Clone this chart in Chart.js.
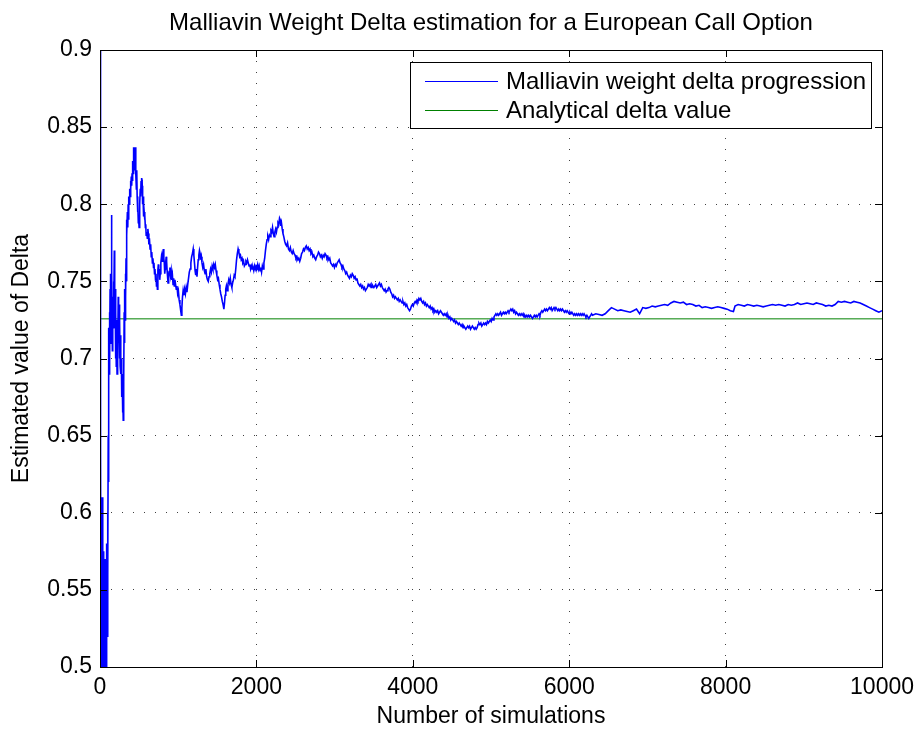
<!DOCTYPE html>
<html>
<head>
<meta charset="utf-8">
<title>Malliavin Weight Delta estimation</title>
<script src="https://cdn.jsdelivr.net/npm/chart.js@4.4.1/dist/chart.umd.min.js"></script>
<style>
  html, body { margin: 0; padding: 0; background: #fff; }
  canvas { display: block; }
</style>
</head>
<body>
<canvas id="chart-delta" width="921" height="731"></canvas>
<script>
'use strict';

// number of simulations at which the running estimate was read off
const simCount = [
  0, 5, 9, 13, 17, 21, 25, 29, 33, 37, 41, 45, 49, 53, 57, 61, 65, 69, 73, 77,
  81, 85, 89, 93, 97, 101, 105, 109, 113, 117, 121, 125, 129, 133, 137, 141, 145, 149, 153, 158,
  163, 168, 173, 178, 183, 188, 193, 198, 203, 208, 213, 218, 223, 228, 233, 238, 243, 248, 253, 258,
  263, 268, 273, 278, 283, 288, 293, 297, 301, 305, 309, 313, 317, 321, 325, 329, 333, 337, 341, 345,
  350, 355, 360, 365, 370, 375, 380, 385, 390, 395, 400, 405, 410, 415, 420, 425, 430, 435, 440, 445,
  450, 455, 460, 465, 470, 475, 480, 485, 490, 495, 500, 505, 510, 515, 520, 525, 530, 535, 540, 545,
  550, 555, 560, 565, 570, 575, 580, 585, 590, 597, 605, 612, 618, 625, 632, 640, 648, 655, 662, 670,
  677, 684, 690, 697, 703, 710, 716, 722, 728, 734, 740, 746, 752, 758, 764, 770, 778, 786, 794, 802,
  810, 816, 822, 828, 834, 840, 846, 852, 858, 864, 870, 878, 886, 894, 902, 910, 918, 926, 934, 942,
  950, 958, 966, 975, 984, 993, 1002, 1012, 1022, 1032, 1040, 1047, 1055, 1063, 1072, 1082, 1092, 1102, 1112, 1122,
  1132, 1142, 1152, 1162, 1172, 1182, 1192, 1200, 1208, 1216, 1224, 1232, 1240, 1248, 1256, 1264, 1272, 1280, 1288, 1296,
  1304, 1314, 1324, 1334, 1344, 1354, 1364, 1374, 1384, 1394, 1404, 1414, 1424, 1434, 1444, 1454, 1464, 1474, 1484, 1494,
  1504, 1514, 1524, 1534, 1544, 1554, 1564, 1574, 1584, 1592, 1600, 1608, 1616, 1626, 1636, 1646, 1656, 1666, 1676, 1686,
  1696, 1706, 1716, 1726, 1736, 1746, 1756, 1766, 1776, 1786, 1796, 1806, 1816, 1826, 1836, 1846, 1856, 1866, 1876, 1886,
  1896, 1906, 1916, 1926, 1936, 1946, 1956, 1966, 1976, 1986, 1996, 2006, 2016, 2026, 2036, 2046, 2056, 2066, 2076, 2086,
  2096, 2106, 2116, 2126, 2136, 2146, 2156, 2166, 2176, 2186, 2196, 2206, 2216, 2226, 2236, 2246, 2256, 2266, 2276, 2286,
  2296, 2304, 2312, 2320, 2330, 2340, 2350, 2362, 2374, 2386, 2398, 2410, 2422, 2434, 2446, 2458, 2470, 2482, 2494, 2506,
  2518, 2530, 2542, 2554, 2566, 2578, 2590, 2602, 2614, 2626, 2638, 2650, 2662, 2674, 2686, 2698, 2710, 2722, 2734, 2746,
  2758, 2770, 2782, 2794, 2806, 2818, 2830, 2842, 2854, 2866, 2878, 2890, 2902, 2914, 2926, 2938, 2950, 2962, 2974, 2986,
  2998, 3010, 3022, 3034, 3046, 3058, 3070, 3082, 3094, 3106, 3118, 3130, 3142, 3154, 3166, 3178, 3190, 3202, 3214, 3226,
  3238, 3250, 3262, 3274, 3286, 3298, 3310, 3322, 3334, 3346, 3358, 3370, 3382, 3394, 3406, 3418, 3430, 3442, 3454, 3466,
  3478, 3490, 3502, 3514, 3526, 3538, 3550, 3562, 3574, 3586, 3598, 3610, 3622, 3634, 3646, 3658, 3670, 3682, 3694, 3706,
  3718, 3730, 3742, 3754, 3766, 3778, 3790, 3802, 3814, 3826, 3838, 3850, 3862, 3874, 3886, 3898, 3910, 3922, 3934, 3946,
  3958, 3970, 3982, 3994, 4006, 4018, 4030, 4042, 4054, 4066, 4078, 4090, 4102, 4114, 4126, 4138, 4150, 4162, 4174, 4186,
  4198, 4210, 4222, 4234, 4246, 4258, 4270, 4282, 4294, 4306, 4318, 4330, 4342, 4354, 4366, 4378, 4390, 4402, 4414, 4426,
  4438, 4450, 4462, 4474, 4486, 4498, 4510, 4522, 4534, 4546, 4558, 4570, 4582, 4594, 4606, 4618, 4630, 4642, 4654, 4666,
  4678, 4690, 4702, 4714, 4726, 4738, 4750, 4762, 4774, 4786, 4798, 4810, 4822, 4834, 4846, 4858, 4870, 4882, 4894, 4906,
  4918, 4930, 4942, 4954, 4966, 4978, 4990, 5002, 5014, 5026, 5038, 5050, 5062, 5074, 5086, 5098, 5110, 5122, 5134, 5146,
  5158, 5170, 5182, 5194, 5206, 5218, 5230, 5242, 5254, 5266, 5278, 5290, 5302, 5314, 5326, 5338, 5350, 5362, 5374, 5386,
  5398, 5410, 5422, 5434, 5446, 5458, 5470, 5482, 5494, 5506, 5518, 5530, 5542, 5554, 5566, 5578, 5590, 5602, 5614, 5626,
  5638, 5650, 5662, 5674, 5686, 5698, 5710, 5722, 5734, 5746, 5758, 5770, 5782, 5794, 5806, 5818, 5830, 5842, 5854, 5866,
  5878, 5890, 5902, 5914, 5926, 5938, 5950, 5962, 5974, 5986, 5998, 6010, 6022, 6034, 6046, 6058, 6070, 6082, 6094, 6106,
  6118, 6130, 6142, 6154, 6166, 6178, 6190, 6202, 6214, 6226, 6238, 6250, 6262, 6274, 6286, 6298,
  6340, 6380, 6420, 6460, 6500, 6540, 6580, 6620, 6660, 6700, 6740, 6780, 6820, 6860, 6900, 6940, 6980, 7020, 7060, 7100,
  7140, 7180, 7220, 7260, 7300, 7340, 7380, 7420, 7460, 7500, 7540, 7580, 7620, 7660, 7700, 7740, 7780, 7820, 7860, 7900,
  7940, 7980, 8020, 8060, 8100, 8120, 8160, 8200, 8240, 8280, 8320, 8360, 8400, 8440, 8480, 8520, 8560, 8600, 8640, 8680,
  8720, 8760, 8800, 8840, 8880, 8920, 8960, 9000, 9040, 9080, 9120, 9160, 9200, 9240, 9280, 9320, 9360, 9400, 9440, 9480,
  9520, 9560, 9600, 9640, 9680, 9720, 9760, 9800, 9840, 9880, 9920, 9960, 10000
];

// running Malliavin weight estimate of delta
const deltaEst = [
  1.05, 0.47, 0.64, 0.49, 0.61, 0.47, 0.56, 0.5, 0.61, 0.48, 0.55, 0.51, 0.575, 0.47, 0.54, 0.5, 0.57, 0.49, 0.53, 0.5,
  0.56, 0.49, 0.58, 0.52, 0.6, 0.56, 0.65, 0.62, 0.72, 0.69, 0.73, 0.70, 0.745, 0.72, 0.755, 0.71, 0.793, 0.74, 0.755, 0.705,
  0.74, 0.72, 0.75, 0.73, 0.77, 0.72, 0.745, 0.70, 0.73, 0.695, 0.725, 0.69, 0.72, 0.70, 0.74, 0.71, 0.735, 0.70, 0.725, 0.695,
  0.715, 0.69, 0.70, 0.675, 0.69, 0.665, 0.68, 0.66, 0.69, 0.685, 0.73, 0.71, 0.745, 0.725, 0.755, 0.74, 0.765, 0.75, 0.79, 0.78,
  0.795, 0.785, 0.80, 0.79, 0.805, 0.80, 0.81, 0.805, 0.815, 0.81, 0.818, 0.812, 0.82, 0.815, 0.828, 0.82, 0.837, 0.825, 0.832, 0.822,
  0.837, 0.828, 0.82, 0.81, 0.822, 0.805, 0.795, 0.80, 0.788, 0.79, 0.785, 0.795, 0.80, 0.81, 0.805, 0.815, 0.817, 0.81, 0.812, 0.80,
  0.805, 0.80, 0.792, 0.795, 0.79, 0.793, 0.785, 0.787, 0.78, 0.782, 0.778, 0.784, 0.781, 0.774, 0.778, 0.771, 0.774, 0.766, 0.769, 0.762,
  0.765, 0.759, 0.762, 0.755, 0.758, 0.751, 0.755, 0.747, 0.751, 0.745, 0.757, 0.761, 0.755, 0.758, 0.751, 0.755, 0.762, 0.766, 0.763, 0.768,
  0.771, 0.765, 0.762, 0.755, 0.758, 0.762, 0.766, 0.763, 0.757, 0.753, 0.749, 0.752, 0.756, 0.759, 0.754, 0.757, 0.751, 0.754, 0.748, 0.752,
  0.747, 0.751, 0.748, 0.745, 0.747, 0.742, 0.744, 0.738, 0.735, 0.731, 0.728, 0.733, 0.74, 0.744, 0.741, 0.745, 0.742, 0.746, 0.743, 0.748,
  0.752, 0.756, 0.758, 0.762, 0.766, 0.768, 0.771, 0.767, 0.762, 0.757, 0.754, 0.758, 0.753, 0.759, 0.764, 0.767, 0.77, 0.768, 0.764, 0.766,
  0.762, 0.759, 0.761, 0.757, 0.755, 0.758, 0.753, 0.751, 0.75, 0.753, 0.755, 0.758, 0.756, 0.76, 0.758, 0.761, 0.759, 0.761, 0.757, 0.754,
  0.751, 0.752, 0.748, 0.745, 0.742, 0.74, 0.737, 0.735, 0.732, 0.736, 0.741, 0.745, 0.747, 0.744, 0.748, 0.751, 0.749, 0.752, 0.748, 0.746,
  0.749, 0.751, 0.754, 0.753, 0.758, 0.764, 0.768, 0.771, 0.769, 0.766, 0.767, 0.764, 0.765, 0.762, 0.763, 0.76, 0.761, 0.763, 0.762, 0.764,
  0.762, 0.76, 0.761, 0.758, 0.76, 0.758, 0.759, 0.757, 0.76, 0.758, 0.76, 0.759, 0.761, 0.758, 0.76, 0.757, 0.759, 0.756, 0.76, 0.758,
  0.762, 0.765, 0.77, 0.774, 0.777, 0.779, 0.777, 0.78, 0.779, 0.783, 0.782, 0.785, 0.781, 0.779, 0.782, 0.784, 0.782, 0.785, 0.788, 0.787,
  0.791, 0.79, 0.786, 0.788, 0.784, 0.781, 0.779, 0.776, 0.774, 0.773, 0.775, 0.771, 0.77, 0.772, 0.769, 0.768, 0.77, 0.768, 0.767, 0.765,
  0.766, 0.764, 0.765, 0.763, 0.765, 0.768, 0.769, 0.771, 0.77, 0.772, 0.773, 0.771, 0.772, 0.77, 0.771, 0.768, 0.769, 0.766, 0.767, 0.765,
  0.764, 0.766, 0.767, 0.769, 0.768, 0.766, 0.767, 0.765, 0.767, 0.766, 0.768, 0.767, 0.765, 0.766, 0.764, 0.765, 0.762, 0.761, 0.76, 0.761,
  0.759, 0.761, 0.76, 0.762, 0.763, 0.764, 0.762, 0.761, 0.759, 0.76, 0.758, 0.757, 0.755, 0.756, 0.754, 0.753, 0.752, 0.754, 0.753, 0.755,
  0.754, 0.752, 0.753, 0.751, 0.752, 0.749, 0.748, 0.747, 0.748, 0.746, 0.747, 0.745, 0.746, 0.744, 0.745, 0.746, 0.748, 0.747, 0.748, 0.746,
  0.748, 0.747, 0.746, 0.747, 0.748, 0.746, 0.747, 0.748, 0.749, 0.747, 0.748, 0.746, 0.745, 0.744, 0.745, 0.743, 0.744, 0.745, 0.746, 0.745,
  0.743, 0.742, 0.74, 0.741, 0.739, 0.74, 0.739, 0.738, 0.739, 0.737, 0.738, 0.737, 0.736, 0.737, 0.735, 0.736, 0.734, 0.735, 0.733, 0.732,
  0.731, 0.732, 0.734, 0.735, 0.734, 0.736, 0.737, 0.736, 0.738, 0.737, 0.739, 0.738, 0.739, 0.737, 0.736, 0.737, 0.735, 0.736, 0.734, 0.735,
  0.734, 0.733, 0.734, 0.732, 0.733, 0.731, 0.732, 0.73, 0.731, 0.73, 0.731, 0.729, 0.73, 0.731, 0.73, 0.729, 0.728, 0.729, 0.728, 0.729,
  0.727, 0.728, 0.726, 0.727, 0.725, 0.726, 0.725, 0.724, 0.725, 0.723, 0.724, 0.723, 0.722, 0.723, 0.722, 0.721, 0.722, 0.72, 0.721, 0.72,
  0.719, 0.72, 0.721, 0.72, 0.721, 0.719, 0.72, 0.721, 0.72, 0.719, 0.72, 0.719, 0.72, 0.722, 0.723, 0.722, 0.723, 0.721, 0.722, 0.723,
  0.722, 0.723, 0.722, 0.724, 0.723, 0.724, 0.725, 0.724, 0.726, 0.725, 0.727, 0.728, 0.729, 0.728, 0.729, 0.728, 0.729, 0.73, 0.728, 0.729,
  0.73, 0.729, 0.73, 0.729, 0.73, 0.731, 0.73, 0.731, 0.732, 0.731, 0.732, 0.73, 0.731, 0.729, 0.73, 0.729, 0.728, 0.729, 0.728, 0.729,
  0.728, 0.729, 0.727, 0.728, 0.727, 0.728, 0.727, 0.728, 0.727, 0.728, 0.727, 0.726, 0.727, 0.728, 0.727, 0.728, 0.727, 0.728, 0.729, 0.728,
  0.73, 0.731, 0.73, 0.731, 0.732, 0.731, 0.732, 0.731, 0.732, 0.733, 0.732, 0.733, 0.731, 0.732, 0.733, 0.732, 0.733, 0.732, 0.731, 0.732,
  0.731, 0.732, 0.731, 0.732, 0.731, 0.73, 0.731, 0.73, 0.731, 0.73, 0.729, 0.73, 0.729, 0.73, 0.729, 0.728, 0.729, 0.728, 0.729, 0.728,
  0.729, 0.728, 0.729, 0.728, 0.729, 0.728, 0.729, 0.728, 0.727, 0.728, 0.727, 0.726, 0.727, 0.728, 0.729, 0.728,
  0.729, 0.7285, 0.728, 0.729, 0.731, 0.733, 0.732, 0.731, 0.7315, 0.731, 0.7305, 0.73, 0.731, 0.732, 0.729, 0.733, 0.7325, 0.733, 0.734, 0.7335,
  0.734, 0.7345, 0.735, 0.7345, 0.736, 0.737, 0.7365, 0.736, 0.7365, 0.735, 0.7355, 0.735, 0.734, 0.7345, 0.733, 0.7335, 0.733, 0.7325, 0.733, 0.7335,
  0.733, 0.7325, 0.732, 0.731, 0.7305, 0.734, 0.735, 0.7345, 0.734, 0.735, 0.7345, 0.734, 0.7345, 0.734, 0.7335, 0.734, 0.7345, 0.735, 0.7345, 0.735,
  0.7345, 0.734, 0.735, 0.7345, 0.735, 0.736, 0.735, 0.7355, 0.736, 0.7355, 0.735, 0.736, 0.7355, 0.735, 0.734, 0.7345, 0.734, 0.735, 0.737, 0.7365,
  0.737, 0.7365, 0.736, 0.737, 0.7365, 0.736, 0.735, 0.734, 0.733, 0.732, 0.731, 0.730, 0.731
];

const analyticalDelta = 0.7257;

const xTicks = [0, 2000, 4000, 6000, 8000, 10000];
const yTicks = [0.5, 0.55, 0.6, 0.65, 0.7, 0.75, 0.8, 0.85, 0.9];

const seriesLabels = ['Malliavin weight delta progression', 'Analytical delta value'];
const chartTitle = 'Malliavin Weight Delta estimation for a European Call Option';
const xTitle = 'Number of simulations';
const yTitle = 'Estimated value of Delta';

const FONT = "'Liberation Sans', Arial, Helvetica, sans-serif";

// frame, inward ticks, legend box and title, matlab style
const matlabLook = {
  id: 'matlabLook',
  afterDatasetsDraw(chart) {
    const { ctx, chartArea: a, scales } = chart;
    const tickLen = 7;
    ctx.save();
    ctx.strokeStyle = '#000';
    ctx.lineWidth = 1;

    ctx.beginPath();
    xTicks.forEach(function (v) {
      const px = Math.round(scales.x.getPixelForValue(v)) + 0.5;
      ctx.moveTo(px, a.bottom); ctx.lineTo(px, a.bottom - tickLen);
      ctx.moveTo(px, a.top); ctx.lineTo(px, a.top + tickLen);
    });
    yTicks.forEach(function (v) {
      const py = Math.round(scales.y.getPixelForValue(v)) + 0.5;
      ctx.moveTo(a.left, py); ctx.lineTo(a.left + tickLen, py);
      ctx.moveTo(a.right, py); ctx.lineTo(a.right - tickLen, py);
    });
    ctx.stroke();

    ctx.strokeRect(Math.round(a.left) + 0.5, Math.round(a.top) + 0.5,
      Math.round(a.right - a.left), Math.round(a.bottom - a.top));

    // legend
    const lx = 410.5, ly = 62.5, lw = 461, lh = 66;
    ctx.fillStyle = '#fff';
    ctx.fillRect(lx, ly, lw, lh);
    ctx.strokeRect(lx, ly, lw, lh);
    ctx.font = '24px ' + FONT;
    ctx.textBaseline = 'middle';
    ctx.textAlign = 'left';
    chart.data.datasets.forEach(function (ds, i) {
      const y = Math.round(ly + 18 + i * 29) + 0.5;
      ctx.strokeStyle = ds.borderColor;
      ctx.lineWidth = 1;
      ctx.beginPath();
      ctx.moveTo(425, y); ctx.lineTo(498, y);
      ctx.stroke();
      ctx.fillStyle = '#000';
      ctx.fillText(ds.label, 506, y + 1);
    });

    // title
    ctx.font = '24px ' + FONT;
    ctx.textAlign = 'center';
    ctx.fillStyle = '#000';
    ctx.fillText(chartTitle, (a.left + a.right) / 2, 23);
    ctx.restore();
  }
};

const ctx = document.getElementById('chart-delta').getContext('2d');
const myChart = new Chart(ctx, {
  type: 'line',
  data: {
    datasets: [
      {
        label: seriesLabels[0],
        data: simCount.map(function (n, i) { return { x: n, y: deltaEst[i] }; }),
        borderColor: '#0000ff',
        borderWidth: 1.6,
        pointRadius: 0,
        tension: 0,
      },
      {
        label: seriesLabels[1],
        data: [
          { x: xTicks[0], y: analyticalDelta },
          { x: xTicks[xTicks.length - 1], y: analyticalDelta },
        ],
        borderColor: '#008000',
        borderWidth: 1,
        pointRadius: 0,
      },
    ],
  },
  options: {
    responsive: false,
    animation: false,
    devicePixelRatio: 1,
    layout: {
      padding: { top: 50, right: 38, bottom: 0, left: 0 },
    },
    plugins: {
      legend: { display: false },
      tooltip: { enabled: false },
      title: { display: false },
    },
    scales: {
      x: {
        type: 'linear',
        min: 0,
        max: 10000,
        afterBuildTicks: function (scale) {
          scale.ticks = xTicks.map(function (v) { return { value: v }; });
        },
        afterFit: function (scale) { scale.height = 64; },
        ticks: {
          padding: 7,
          color: '#000',
          font: { family: FONT, size: 23 },
          maxRotation: 0,
          callback: function (v) { return String(v); },
        },
        grid: {
          color: 'rgba(0,0,0,0.75)',
          lineWidth: 1,
          drawTicks: false,
        },
        border: { display: false, dash: [1, 10] },
        title: {
          display: true,
          text: xTitle,
          color: '#000',
          font: { family: FONT, size: 23 },
          padding: { top: 0, bottom: 1 },
        },
      },
      y: {
        type: 'linear',
        min: 0.5,
        max: 0.9,
        afterBuildTicks: function (scale) {
          scale.ticks = yTicks.map(function (v) { return { value: v }; });
        },
        afterFit: function (scale) { scale.width = 100; },
        ticks: {
          padding: 8,
          color: '#000',
          font: { family: FONT, size: 23 },
          callback: function (v) { return String(Math.round(v * 100) / 100); },
        },
        grid: {
          color: 'rgba(0,0,0,0.75)',
          lineWidth: 1,
          drawTicks: false,
        },
        border: { display: false, dash: [1, 10] },
        title: {
          display: true,
          text: yTitle,
          color: '#000',
          font: { family: FONT, size: 23 },
          padding: { top: 8, bottom: 0 },
        },
      },
    },
  },
  plugins: [matlabLook],
});
</script>
</body>
</html>
